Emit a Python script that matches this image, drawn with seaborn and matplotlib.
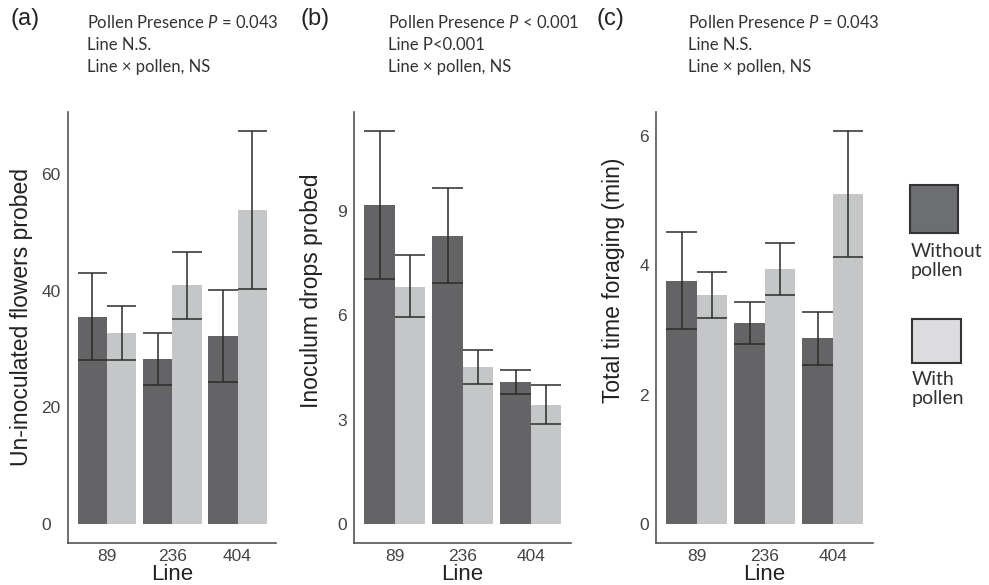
import pandas as pd
import matplotlib.pyplot as plt
import matplotlib.patches as mpatches
import seaborn as sns

# bar heights and SE limits, order: 89, 236, 404
lines = ["89", "236", "404"]
pollen_levels = ["Without pollen", "With pollen"]

flowers_without = [35.5, 28.3, 32.2]
flowers_without_lo = [28.2, 23.9, 24.4]
flowers_without_hi = [43.0, 32.8, 40.1]
flowers_with = [32.7, 40.9, 53.8]
flowers_with_lo = [28.1, 35.1, 40.3]
flowers_with_hi = [37.4, 46.7, 67.4]

drops_without = [9.16, 8.29, 4.07]
drops_without_lo = [7.04, 6.94, 3.75]
drops_without_hi = [11.3, 9.65, 4.42]
drops_with = [6.82, 4.51, 3.43]
drops_with_lo = [5.94, 4.02, 2.88]
drops_with_hi = [7.72, 5.01, 3.99]

time_without = [3.76, 3.10, 2.87]
time_without_lo = [3.01, 2.78, 2.46]
time_without_hi = [4.51, 3.43, 3.28]
time_with = [3.54, 3.94, 5.10]
time_with_lo = [3.18, 3.54, 4.13]
time_with_hi = [3.89, 4.35, 6.08]

stats_a = "Pollen Presence $P$ = 0.043\nLine N.S.\nLine × pollen, NS"
stats_b = "Pollen Presence $P$ < 0.001\nLine P<0.001\nLine × pollen, NS"
stats_c = "Pollen Presence $P$ = 0.043\nLine N.S.\nLine × pollen, NS"

dark = "#636467"
light = "#c5c6c8"

sns.set_style("white")
plt.rcParams["font.family"] = ["Liberation Sans", "DejaVu Sans"]
plt.rcParams["mathtext.fontset"] = "custom"
plt.rcParams["mathtext.rm"] = "Lato"
plt.rcParams["mathtext.it"] = "Lato:italic"


def make_df(without, with_):
    rows = []
    for i, ln in enumerate(lines):
        rows.append({"Line": ln, "Pollen": pollen_levels[0], "value": without[i]})
        rows.append({"Line": ln, "Pollen": pollen_levels[1], "value": with_[i]})
    return pd.DataFrame(rows)


def draw_panel(ax, df, los, his, ylabel, yticks, ylim, label_pad, ylab_xy):
    sns.barplot(data=df, x="Line", y="value", hue="Pollen", order=lines,
                hue_order=pollen_levels, palette=[dark, light], width=0.9,
                gap=0, errorbar=None, legend=False, linewidth=0, ax=ax)
    # SE bars, caps as wide as the bar
    for cont, lo, hi in zip(ax.containers, los, his):
        for bar, l, h in zip(cont, lo, hi):
            x0 = bar.get_x()
            x1 = x0 + bar.get_width()
            xc = (x0 + x1) / 2
            ax.vlines(xc, l, h, color="#2b2b2b", lw=1.1, zorder=3)
            ax.hlines([l, h], x0, x1, color="#2b2b2b", lw=1.1, zorder=3)
    ax.set_xlim(-0.6, 2.59)
    ax.set_ylim(*ylim)
    ax.set_yticks(yticks)
    ax.set_xlabel("Line", fontsize=16, color="#222222", labelpad=0)
    ax.set_ylabel(ylabel, fontsize=16.5, color="#222222")
    ax.yaxis.set_label_coords(*ylab_xy)
    sns.despine(ax=ax)
    for s in ["left", "bottom"]:
        ax.spines[s].set_color("#555555")
        ax.spines[s].set_linewidth(1.2)
    ax.tick_params(axis="both", labelsize=12.5, labelcolor="#444444")
    ax.tick_params(axis="y", length=3, color="#777777", pad=label_pad)
    ax.tick_params(axis="x", length=0, pad=4)
    for lab in ax.get_yticklabels():
        lab.set_horizontalalignment("left")


fig = plt.figure(figsize=(9.89, 5.85), dpi=100)
ax_a = fig.add_axes([68 / 989, 0.0718, 208 / 989, 0.7373])
ax_b = fig.add_axes([354 / 989, 0.0718, 217 / 989, 0.7373])
ax_c = fig.add_axes([656 / 989, 0.0718, 217 / 989, 0.7373])

draw_panel(ax_a, make_df(flowers_without, flowers_with),
           [flowers_without_lo, flowers_with_lo], [flowers_without_hi, flowers_with_hi],
           "Un-inoculated flowers probed", [0, 20, 40, 60], (-3.26, 70.7), 16,
           (-0.17, 0.524))
draw_panel(ax_b, make_df(drops_without, drops_with),
           [drops_without_lo, drops_with_lo], [drops_without_hi, drops_with_hi],
           "Inoculum drops probed", [0, 3, 6, 9], (-0.546, 11.85), 9,
           (-0.145, 0.584))
draw_panel(ax_c, make_df(time_without, time_with),
           [time_without_lo, time_with_lo], [time_without_hi, time_with_hi],
           "Total time foraging (min)", [0, 2, 4, 6], (-0.294, 6.375), 9,
           (-0.145, 0.61))

# panel letters and stats text
for xl, xs, letter, txt in [(10, 87, "(a)", stats_a), (300, 388, "(b)", stats_b),
                            (596, 688, "(c)", stats_c)]:
    fig.text(xl / 989, 1 - 8 / 585, letter, fontsize=17, color="#222222",
             va="top", ha="left")
    fig.text(xs / 989, 1 - 14 / 585, txt, fontsize=12, color="#333333",
             va="top", ha="left", family=["Lato", "DejaVu Sans"], linespacing=1.45)

# legend, drawn by hand: swatch with the label underneath
fig.add_artist(mpatches.Rectangle((910 / 989, 0.6017), 48 / 989, 0.082,
                                  transform=fig.transFigure, facecolor="#6d6e71",
                                  edgecolor="#333333", lw=1.5))
fig.text(911 / 989, 1 - 243 / 585, "Without\npollen", fontsize=14, color="#333333",
         va="top", ha="left", family=["Lato", "DejaVu Sans"], linespacing=1.15)
fig.add_artist(mpatches.Rectangle((912 / 989, 0.3795), 49 / 989, 0.075,
                                  transform=fig.transFigure, facecolor="#dcdcde",
                                  edgecolor="#333333", lw=1.5))
fig.text(912 / 989, 1 - 371 / 585, "With\npollen", fontsize=14, color="#333333",
         va="top", ha="left", family=["Lato", "DejaVu Sans"], linespacing=1.15)

fig.savefig("out.png", dpi=100)
